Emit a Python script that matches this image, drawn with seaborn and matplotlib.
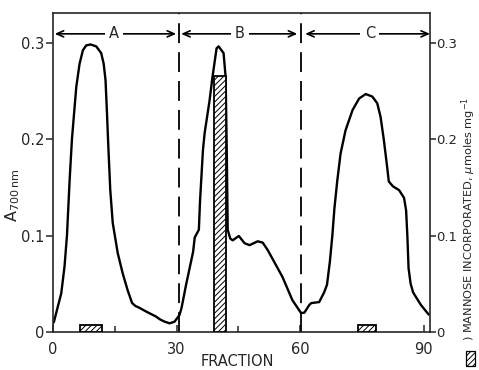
import matplotlib
matplotlib.use("Agg")
import matplotlib.pyplot as plt
from matplotlib.patches import Rectangle
import seaborn as sns
import pandas as pd

# Absorbance profile of the column eluate
fraction = [0.0, 0.24, 0.97, 2.0, 2.8, 3.39, 4.03, 4.6, 5.65, 6.45, 7.26,
            8.06, 9.1, 10.5, 11.7, 12.3, 12.75, 13.1, 13.4, 13.9, 14.5, 15.7,
            16.9, 18.1, 19.2, 20.0, 21.0, 22.7, 25.0, 26.0, 27.1, 28.3, 29.5, 30.7,
            31.2, 32.3, 34.0, 34.4, 35.4, 35.7, 36.4, 36.8, 38.0, 38.7, 39.7, 40.2,
            41.4, 41.9, 42.2, 42.4, 43.0, 43.6, 45.1, 46.5, 47.7, 49.7, 50.9, 52.1,
            55.7, 58.1, 60.2, 61.0, 62.2, 62.7, 64.6, 65.8, 66.5, 67.2, 67.8, 68.3,
            69.0, 69.8, 71.0, 72.7, 74.3, 75.9, 77.5, 78.7, 79.5, 80.3, 81.1, 81.5,
            82.5, 84.0, 85.2, 85.7, 86.0, 86.3, 86.8, 87.4, 89.3, 91.2]
absorbance = [0.009, 0.0107, 0.023, 0.040, 0.068, 0.100, 0.157, 0.200, 0.254, 0.278,
              0.292, 0.297, 0.298, 0.296, 0.289, 0.278, 0.261, 0.227, 0.195, 0.147,
              0.113, 0.082, 0.061, 0.0435, 0.030, 0.027, 0.025, 0.021, 0.016, 0.013,
              0.0107, 0.009, 0.0107, 0.0176, 0.025, 0.049, 0.083, 0.098, 0.106, 0.137,
              0.189, 0.206, 0.240, 0.264, 0.294, 0.296, 0.289, 0.264, 0.180, 0.106,
              0.097, 0.095, 0.0995, 0.092, 0.090, 0.094, 0.0926, 0.085, 0.057, 0.033,
              0.0197, 0.020, 0.028, 0.030, 0.031, 0.041, 0.049, 0.073, 0.100, 0.128,
              0.157, 0.185, 0.209, 0.230, 0.242, 0.2466, 0.244, 0.237, 0.223, 0.199,
              0.171, 0.156, 0.151, 0.147, 0.139, 0.126, 0.100, 0.066, 0.050, 0.041,
              0.028, 0.018]

# Mannose incorporated by pooled fractions of each peak
pool_start = [6.5, 39.0, 74.0]
pool_end = [12.0, 42.1, 78.5]
mannose = [0.007, 0.265, 0.007]

# Peak regions
region_labels = ["A", "B", "C"]
region_bounds = [(0.4, 29.9), (31.1, 59.3), (61.2, 91.5)]
region_centers = [14.8, 45.4, 76.9]
dividers = [30.5, 60.3]

x_ticks = [0, 30, 60, 90]
x_minor = [15, 45, 75]
y_ticks = [0, 0.1, 0.2, 0.3]
y_ticklabels = ["0", "0.1", "0.2", "0.3"]

sns.set_style("ticks")
plt.rcParams["font.family"] = ["DejaVu Sans"]
plt.rcParams["hatch.linewidth"] = 0.7

fig = plt.figure(figsize=(4.79, 3.70), dpi=100)
ax = fig.add_axes([53 / 479, 38 / 370, 377 / 479, 319 / 370])

df = pd.DataFrame({"fraction": fraction, "absorbance": absorbance})
sns.lineplot(data=df, x="fraction", y="absorbance", color="black", lw=1.7,
             ax=ax, zorder=2, sort=False)

widths = [e - s for s, e in zip(pool_start, pool_end)]
ax.bar(pool_start, mannose, width=widths, align="edge", facecolor="white",
       edgecolor="black", hatch="//////", lw=1.3, zorder=3)

for xd in dividers:
    ax.axvline(xd, color="black", lw=1.3, ls=(0, (11, 5)), zorder=1)

arrow_y = 0.309
for lab, (x0, x1), xc in zip(region_labels, region_bounds, region_centers):
    ax.annotate("", xy=(x1, arrow_y), xytext=(x0, arrow_y),
                arrowprops=dict(arrowstyle="<->,head_length=0.5,head_width=0.22",
                                color="black", lw=1.2, shrinkA=0, shrinkB=0))
    ax.text(xc, arrow_y, lab, ha="center", va="center", fontsize=10.5, zorder=5,
            bbox=dict(facecolor="white", edgecolor="none", pad=3))

ax.set_xlim(0, 91.5)
ax.set_ylim(0, 0.3306)
ax.set_xticks(x_ticks)
ax.set_xticks(x_minor, minor=True)
ax.set_yticks(y_ticks)
ax.set_yticklabels(y_ticklabels)
ax.tick_params(axis="x", which="major", direction="in", length=5, width=1.1,
               labelsize=10.5, pad=7)
ax.tick_params(axis="x", which="minor", direction="in", length=4, width=1.1)
ax.tick_params(axis="y", direction="out", length=5, width=1.1, labelsize=10.5, pad=1)

for sp in ax.spines.values():
    sp.set_visible(True)
    sp.set_linewidth(1.2)

ax.set_xlabel("FRACTION", fontsize=10.5)
ax.xaxis.set_label_coords(0.488, -0.068)
ax.set_ylabel(r"A$_{\mathregular{700\,nm}}$", fontsize=11.5)
ax.yaxis.set_label_coords(-0.082, 0.43)

ax2 = ax.twinx()
ax2.set_ylim(ax.get_ylim())
ax2.set_yticks(y_ticks)
ax2.set_yticklabels(y_ticklabels)
ax2.tick_params(axis="y", direction="out", length=4, width=1.1, labelsize=9.5, pad=0.5)
for sp in ax2.spines.values():
    sp.set_visible(False)

fig.text(478.5 / 479, 1 - 341 / 370, r") MANNOSE INCORPORATED, $\mu$moles mg$^{-1}$",
         rotation=90, ha="right", va="bottom", fontsize=8.2)
fig.patches.append(Rectangle((466 / 479, 1 - 366 / 370), 9 / 479, 15 / 370,
                             transform=fig.transFigure, facecolor="white",
                             edgecolor="black", hatch="//////", lw=0.9))

fig.savefig("out.png", dpi=100)
